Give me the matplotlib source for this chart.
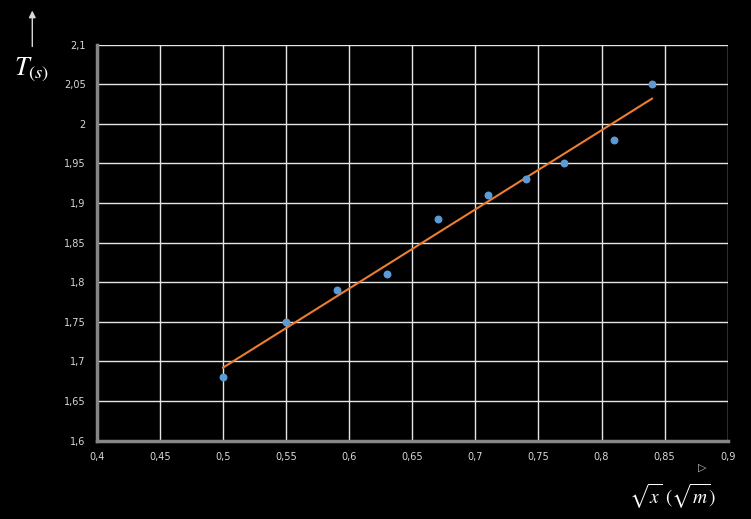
import matplotlib.pyplot as plt
import numpy as np
from matplotlib.patches import FancyArrowPatch
from matplotlib.ticker import FuncFormatter

# data
sqrt_x = [0.50, 0.55, 0.59, 0.63, 0.67, 0.71, 0.74, 0.77, 0.81, 0.84]
period = [1.68, 1.75, 1.79, 1.81, 1.88, 1.91, 1.93, 1.95, 1.98, 2.05]

x_ticks = np.arange(0.4, 0.9001, 0.05)
y_ticks = np.arange(1.6, 2.1001, 0.05)

BG = "#000000"
GRID = "#e6e6e6"
AXIS = "#868686"
TXT = "#d9d9d9"

plt.rcParams["mathtext.fontset"] = "stix"


def comma(v, _):
    s = f"{v:.2f}".rstrip("0").rstrip(".")
    return s.replace(".", ",")


fig = plt.figure(figsize=(7.51, 5.19), dpi=100, facecolor=BG)
ax = fig.add_axes([0.129, 0.151, 0.840, 0.763])
ax.set_facecolor(BG)

ax.set_xlim(0.4, 0.9)
ax.set_ylim(1.6, 2.1)
ax.set_xticks(x_ticks)
ax.set_yticks(y_ticks)
ax.xaxis.set_major_formatter(FuncFormatter(comma))
ax.yaxis.set_major_formatter(FuncFormatter(comma))
ax.grid(True, color=GRID, linewidth=1.0)
ax.set_axisbelow(True)

for side in ["top", "right"]:
    ax.spines[side].set_visible(False)
for side in ["left", "bottom"]:
    ax.spines[side].set_color(AXIS)
    ax.spines[side].set_linewidth(2.5)

ax.tick_params(length=0, colors=TXT, labelsize=7, pad=8)

# trend line
a, b = np.polyfit(sqrt_x, period, 1)
xs = np.array([min(sqrt_x), max(sqrt_x)])
ax.plot(xs, a * xs + b, color="#ed7d31", linewidth=1.5, zorder=3)

ax.scatter(sqrt_x, period, s=22, color="#5b9bd5", zorder=4)

# axis labels with arrows
fig.text(0.042, 0.865, r"$T_{(s)}$", color="white", fontsize=19,
         ha="center", va="center")
fig.patches.append(FancyArrowPatch(
    (0.043, 0.905), (0.043, 0.985), transform=fig.transFigure,
    arrowstyle="-|>", mutation_scale=10, color="#d9d9d9", linewidth=1.0))

fig.text(0.896, 0.043, r"$\sqrt{x}\ (\sqrt{m})$", color="white", fontsize=14,
         ha="center", va="center")
fig.text(0.935, 0.098, "▷", color="#bfbfbf", fontsize=8,
         ha="center", va="center")

fig.savefig("out.png", dpi=100, facecolor=BG)
